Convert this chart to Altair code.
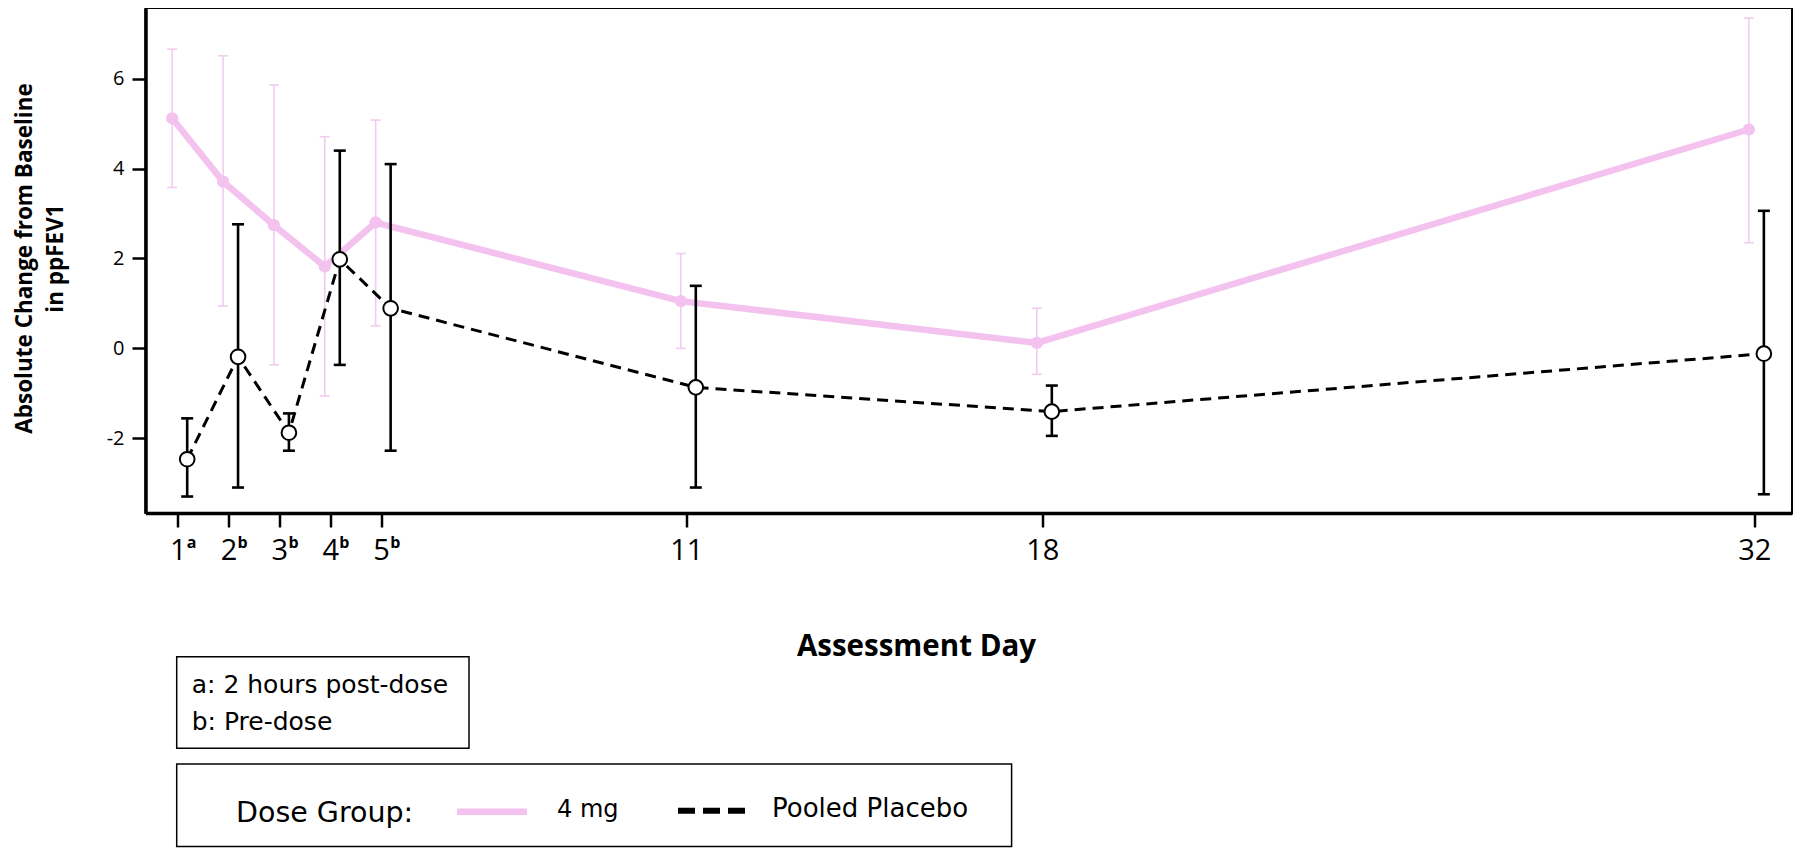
import altair as alt
import pandas as pd

# ---- data ----
days = [1, 2, 3, 4, 5, 11, 18, 32]
x_tick_labels = ["1", "2", "3", "4", "5", "11", "18", "32"]
x_tick_sups = ["a", "b", "b", "b", "b", "", "", ""]
y_ticks = [-2, 0, 2, 4, 6]

mg4_mean = [5.12, 3.71, 2.74, 1.82, 2.80, 1.05, 0.12, 4.87]
mg4_upper = [6.66, 6.51, 5.86, 4.71, 5.08, 2.11, 0.89, 7.35]
mg4_lower = [3.58, 0.94, -0.37, -1.06, 0.50, 0.00, -0.58, 2.35]

pbo_mean = [-2.47, -0.19, -1.88, 1.98, 0.89, -0.87, -1.41, -0.12]
pbo_upper = [-1.56, 2.76, -1.45, 4.40, 4.10, 1.39, -0.83, 3.06]
pbo_lower = [-3.30, -3.10, -2.28, -0.37, -2.28, -3.10, -1.95, -3.25]

group_names = ["4 mg", "Pooled Placebo"]
footnotes = ["a: 2 hours post-dose", "b: Pre-dose"]
legend_title = "Dose Group:"

df4 = pd.DataFrame({"day": days, "mean": mg4_mean, "upper": mg4_upper, "lower": mg4_lower})
dfp = pd.DataFrame({"day": days, "mean": pbo_mean, "upper": pbo_upper, "lower": pbo_lower})
dfs = pd.DataFrame({"day": days, "sup": x_tick_sups})

PINK = "#f4c2ef"
PINK_ERR = "#f1ccef"
BLACK = "#000000"

# label expression from tick lists
label_expr = "''"
for d, lab in reversed(list(zip(days, x_tick_labels))):
    label_expr = f"datum.value == {d} ? '{lab}' : ({label_expr})"

x_scale = alt.Scale(domain=[0.367, 32.74], nice=False, zero=False)
y_scale = alt.Scale(domain=[-3.667, 7.575], nice=False, zero=False)

x_axis = alt.Axis(
    values=days, labelExpr=label_expr, title="Assessment Day",
    labelFont="Open Sans", labelFontSize=29, labelColor="black", labelPadding=9,
    labelOverlap=False, labelFlush=False, tickSize=14, tickWidth=2.5,
    titleFont="Open Sans", titleFontWeight="bold", titleFontSize=29.5, titleColor="black",
    titleX=770.5, titleY=142, titleBaseline="alphabetic", titleAlign="center",
)
y_axis = alt.Axis(
    values=y_ticks, labelExpr="datum.value + ''", title=["Absolute Change from Baseline", "in ppFEV1"],
    labelFont="Open Sans", labelFontSize=20, labelColor="black", labelPadding=8,
    tickSize=13.5, tickWidth=2.5,
    titleFont="Open Sans", titleFontWeight="bold", titleFontSize=22.5, titleColor="black",
    titleLineHeight=31, titleAngle=270, titleBaseline="middle", titleAlign="center",
    titleX=-121, titleY=250,
)

X = alt.X("day:Q", scale=x_scale, axis=x_axis)
Ym = alt.Y("mean:Q", scale=y_scale, axis=y_axis)
Yl = alt.Y("lower:Q", scale=y_scale, axis=y_axis)
Yu = alt.Y("upper:Q", scale=y_scale, axis=y_axis)

OFF4 = -5.5
OFFP = 9.5

b4 = alt.Chart(df4)
bp = alt.Chart(dfp)

pink_err = b4.mark_rule(color=PINK_ERR, strokeWidth=1.6, xOffset=OFF4).encode(x=X, y=Yl, y2="upper:Q")
pink_cap_u = b4.mark_tick(orient="horizontal", size=10, thickness=1.6, color=PINK_ERR, opacity=1, xOffset=OFF4).encode(x=X, y=Yu)
pink_cap_l = b4.mark_tick(orient="horizontal", size=10, thickness=1.6, color=PINK_ERR, opacity=1, xOffset=OFF4).encode(x=X, y=Yl)
pink_line = b4.mark_line(color=PINK, strokeWidth=6.5, xOffset=OFF4).encode(x=X, y=Ym)
pink_pts = b4.mark_point(filled=True, shape="circle", size=150, color=PINK, opacity=1, xOffset=OFF4).encode(x=X, y=Ym)

pbo_err = bp.mark_rule(color=BLACK, strokeWidth=2.6, xOffset=OFFP).encode(x=X, y=Yl, y2="upper:Q")
pbo_cap_u = bp.mark_tick(orient="horizontal", size=12, thickness=2.6, color=BLACK, opacity=1, xOffset=OFFP).encode(x=X, y=Yu)
pbo_cap_l = bp.mark_tick(orient="horizontal", size=12, thickness=2.6, color=BLACK, opacity=1, xOffset=OFFP).encode(x=X, y=Yl)
pbo_line = bp.mark_line(color=BLACK, strokeWidth=3, strokeDash=[11, 7], xOffset=OFFP).encode(x=X, y=Ym)
pbo_pts = bp.mark_point(filled=True, shape="circle", size=215, fill="white", stroke=BLACK, strokeWidth=2,
                        opacity=1, xOffset=OFFP).encode(x=X, y=Ym)

# superscripts next to the tick labels (positioned through the x scale)
sups = alt.Chart(dfs).mark_text(align="left", baseline="alphabetic", dx=9, font="Open Sans",
                                fontWeight="bold", fontSize=16, color="black").encode(
    x=X, y=alt.value(540), text="sup:N")

one = alt.Data(values=[{"k": 1}])

def box(x1, x2, y1, y2):
    return alt.Chart(one).mark_rect(fill="white", stroke="black", strokeWidth=1.5).encode(
        x=alt.value(x1), x2=alt.value(x2), y=alt.value(y1), y2=alt.value(y2))

def label(txt, x, y, size, font="DejaVu Sans"):
    return alt.Chart(one).mark_text(text=txt, align="left", baseline="alphabetic", font=font,
                                    fontSize=size, color="black").encode(x=alt.value(x), y=alt.value(y))

foot_box = box(31.2, 323.5, 648.7, 740.3)
foot1 = label(footnotes[0], 46.2, 685.3, 25)
foot2 = label(footnotes[1], 46.2, 722, 25)

leg_box = box(31.2, 866.1, 756, 838.5)
leg_title = label(legend_title, 90.5, 813.7, 28.5)
leg_pink = alt.Chart(one).mark_rule(color=PINK, strokeWidth=6.5).encode(
    x=alt.value(311.5), x2=alt.value(381.5), y=alt.value(803.7))
leg_lab1 = label(group_names[0], 411.5, 809.3, 24)
leg_dash = alt.Chart(one).mark_rule(color=BLACK, strokeWidth=6, strokeDash=[17, 8]).encode(
    x=alt.value(532.5), x2=alt.value(599.5), y=alt.value(802.7))
leg_lab2 = label(group_names[1], 626.5, 809.3, 26)

chart = alt.layer(
    pink_err, pink_cap_u, pink_cap_l, pink_line, pink_pts,
    pbo_err, pbo_cap_u, pbo_cap_l, pbo_line, pbo_pts, sups,
    foot_box, foot1, foot2, leg_box, leg_title, leg_pink, leg_lab1, leg_dash, leg_lab2,
).properties(
    width=1646.5, height=505,
    autosize=alt.AutoSizeParams(type="none"),
    padding={"left": 137.5, "top": 0, "right": 2, "bottom": 337},
    background="white",
).configure_view(
    stroke="black", strokeWidth=2,
).configure_axis(
    grid=False, domainColor="black", domainWidth=3.5, tickColor="black",
)

chart.save("out.html", embed_options={"renderer": "svg", "actions": False})
